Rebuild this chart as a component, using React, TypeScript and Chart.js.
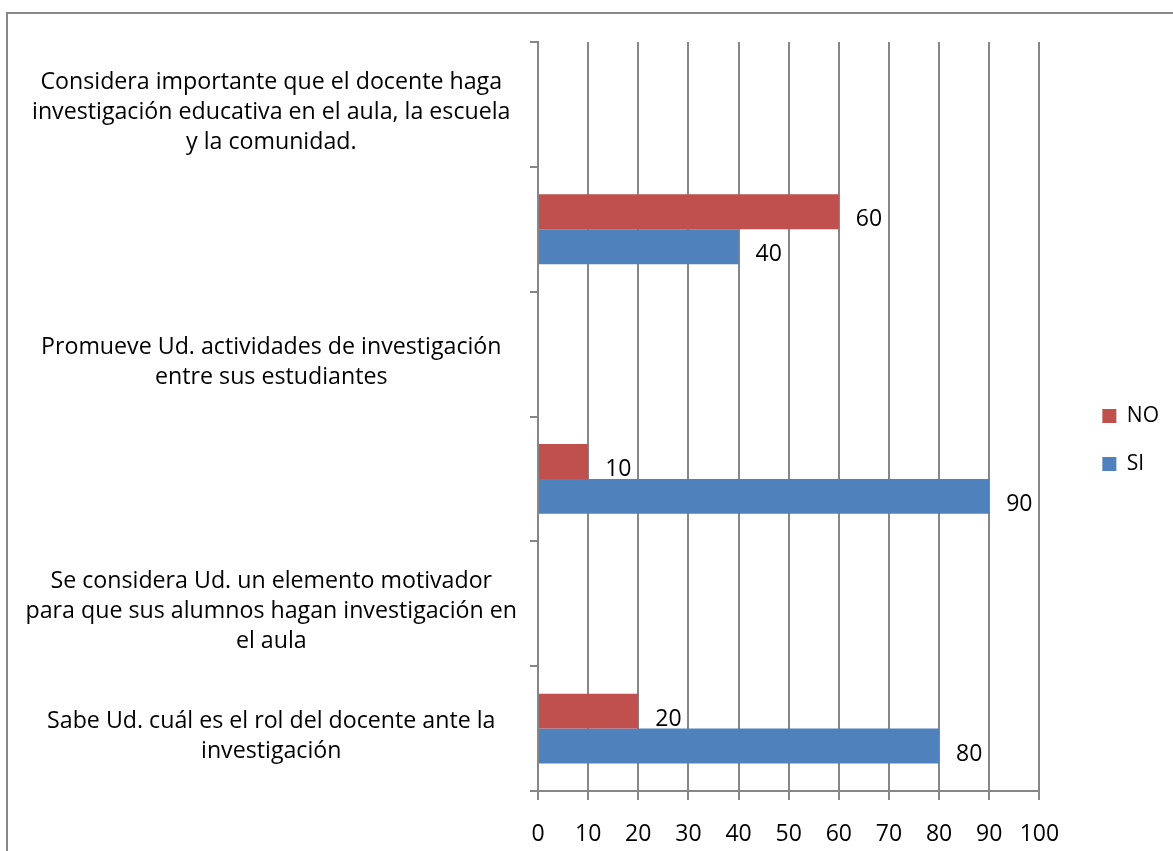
import React, { useEffect, useRef } from "react";
import { Chart, registerables } from "chart.js";

Chart.register(...registerables);

const categories: (string | string[])[] = [
  ["Considera importante que el docente haga", "investigación educativa en el aula, la escuela", "y la comunidad."],
  "",
  ["Promueve Ud. actividades de investigación", "entre sus estudiantes"],
  "",
  ["Se considera Ud. un elemento motivador", "para que sus alumnos hagan investigación en", "el aula"],
  ["Sabe Ud. cuál es el rol del docente ante la", "investigación"],
];

const seriesNO: (number | null)[] = [null, 60, null, 10, null, 20];
const seriesSI: (number | null)[] = [null, 40, null, 90, null, 80];

const xMin = 0;
const xMax = 100;
const xStep = 10;

const FONT = "'Open Sans', sans-serif";
const GRAY = "#878787";

const dataLabelPlugin = {
  id: "dataLabels",
  afterDatasetsDraw(chart: any) {
    const ctx = chart.ctx;
    ctx.save();
    ctx.font = `23px ${FONT}`;
    ctx.fillStyle = "#000";
    ctx.textAlign = "left";
    ctx.textBaseline = "middle";
    chart.data.datasets.forEach((ds: any, di: number) => {
      const meta = chart.getDatasetMeta(di);
      meta.data.forEach((el: any, i: number) => {
        const v = ds.data[i];
        if (v === null || v === undefined) return;
        ctx.fillText(String(v), el.x + 17, el.y + 8);
      });
    });
    ctx.restore();
  },
};

export default function App() {
  const ref = useRef<HTMLCanvasElement | null>(null);

  useEffect(() => {
    if (!ref.current) return;
    const chart = new Chart(ref.current, {
      type: "bar",
      data: {
        labels: categories,
        datasets: [
          {
            label: "NO",
            data: seriesNO,
            backgroundColor: "#C0504D",
            borderWidth: 0,
            categoryPercentage: 0.56,
            barPercentage: 1,
          },
          {
            label: "SI",
            data: seriesSI,
            backgroundColor: "#4F81BD",
            borderWidth: 0,
            categoryPercentage: 0.56,
            barPercentage: 1,
          },
        ],
      },
      options: {
        indexAxis: "y",
        responsive: false,
        animation: false,
        layout: { padding: { top: 42, left: 0, right: 4, bottom: 0 } },
        scales: {
          x: {
            type: "linear",
            position: "bottom",
            min: xMin,
            max: xMax,
            ticks: { stepSize: xStep, padding: 21, color: "#000", font: { family: FONT, size: 23 } },
            grid: { color: GRAY, lineWidth: 2, tickLength: 9, drawOnChartArea: true },
            border: { color: GRAY, width: 2 },
            afterFit: (s: any) => {
              s.height = 60;
              s.paddingLeft = 0;
              s.paddingRight = 0;
            },
          },
          y: {
            type: "category",
            offset: true,
            grid: { offset: true, drawOnChartArea: false, tickLength: 8, color: GRAY, lineWidth: 2 },
            border: { color: GRAY, width: 2 },
            ticks: {
              autoSkip: false,
              crossAlign: "center",
              padding: 13,
              labelOffset: 8,
              color: "#000",
              font: { family: FONT, size: 23.2, lineHeight: 30 / 23.2 },
            },
            afterFit: (s: any) => {
              s.width = 538;
              s.paddingTop = 0;
              s.paddingBottom = 0;
            },
          },
          pad: {
            type: "linear",
            position: "right",
            display: true,
            grid: { display: false },
            border: { display: false },
            ticks: { display: false },
            afterFit: (s: any) => {
              s.width = 36;
              s.paddingTop = 0;
              s.paddingBottom = 0;
            },
          },
        },
        plugins: {
          legend: {
            position: "right",
            align: "start",
            title: { display: true, text: "", padding: { top: 322, bottom: 0 }, font: { size: 12 } },
            labels: {
              boxWidth: 14,
              boxHeight: 14,
              padding: 27,
              color: "#000",
              font: { family: FONT, size: 21 },
            },
          },
          tooltip: { enabled: false },
        },
      } as any,
      plugins: [dataLabelPlugin],
    });
    return () => chart.destroy();
  }, []);

  return (
    <div style={{ position: "absolute", left: 0, top: 0, width: 1173, height: 851, overflow: "hidden", background: "#fff" }}>
      <canvas ref={ref} width={1173} height={851} style={{ position: "absolute", left: 0, top: 0, width: 1173, height: 851 }} />
      <div
        style={{
          position: "absolute",
          left: 6,
          top: 12,
          width: 1300,
          height: 1000,
          border: `2px solid ${GRAY}`,
          boxSizing: "border-box",
          pointerEvents: "none",
        }}
      />
    </div>
  );
}
